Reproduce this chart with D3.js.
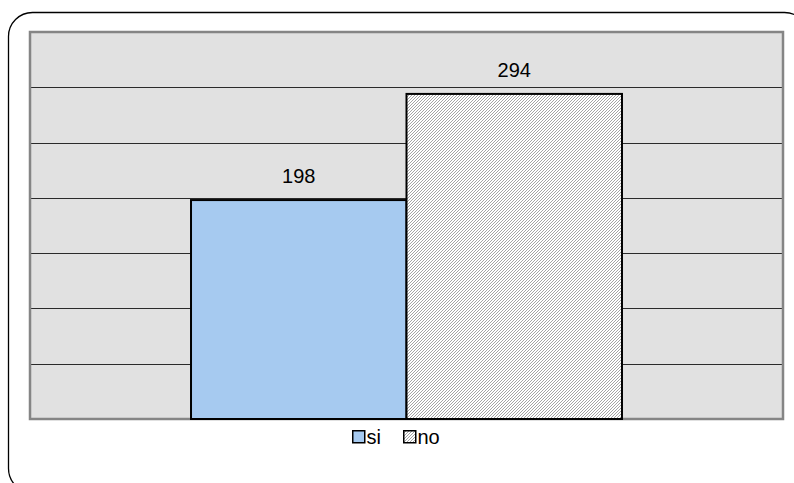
<!DOCTYPE html>
<html>
<head>
<meta charset="utf-8">
<script src="https://cdn.jsdelivr.net/npm/d3@7"></script>
<style>
  html, body { margin: 0; padding: 0; background: #fff; }
  svg { display: block; font-family: Arial, "Liberation Sans", sans-serif; }
</style>
</head>
<body>
<svg id="chart" width="794" height="483"></svg>
<script>
// Responses per answer
const categories = [""];
const seriesNames = ["si", "no"];
const seriesValues = [198, 294];
const yTicks = [0, 50, 100, 150, 200, 250, 300, 350];

const svg = d3.select("#chart");

// Rounded outer frame
svg.append("rect")
  .attr("x", 8.5).attr("y", 12.5)
  .attr("width", 800).attr("height", 480)
  .attr("rx", 24).attr("ry", 24)
  .attr("fill", "#fff")
  .attr("stroke", "#000").attr("stroke-width", 1.3);

// Hatch pattern for the "no" series
const defs = svg.append("defs");
const pat = defs.append("pattern")
  .attr("id", "hatch")
  .attr("patternUnits", "userSpaceOnUse")
  .attr("width", 3).attr("height", 3);
pat.append("rect").attr("width", 3).attr("height", 3).attr("fill", "#fff");
pat.append("path")
  .attr("d", "M-1,1 L1,-1 M0,3 L3,0 M2,4 L4,2")
  .attr("stroke", "#9a9a9a").attr("stroke-width", 0.9);

const plot = { left: 30, right: 783, top: 32, bottom: 419 };

const y = d3.scaleLinear()
  .domain([0, d3.max(yTicks)])
  .range([plot.bottom, plot.top]);

const x0 = d3.scaleBand()
  .domain(categories)
  .range([plot.left, plot.right])
  .paddingOuter(0.3736).paddingInner(0);

const x1 = d3.scaleBand()
  .domain(seriesNames)
  .range([0, x0.bandwidth()]);

// Plot background
svg.append("rect")
  .attr("x", plot.left).attr("y", plot.top)
  .attr("width", plot.right - plot.left).attr("height", plot.bottom - plot.top)
  .attr("fill", "#e1e1e1");

// Horizontal gridlines
svg.append("g")
  .selectAll("line")
  .data(yTicks.filter(t => t > 0 && t < d3.max(yTicks)))
  .join("line")
  .attr("x1", plot.left).attr("x2", plot.right)
  .attr("y1", d => Math.round(y(d)) + 0.5).attr("y2", d => Math.round(y(d)) + 0.5)
  .attr("stroke", "#2a2a2a").attr("stroke-width", 1);

// Plot border
svg.append("rect")
  .attr("x", plot.left).attr("y", plot.top)
  .attr("width", plot.right - plot.left).attr("height", plot.bottom - plot.top)
  .attr("fill", "none")
  .attr("stroke", "#858585").attr("stroke-width", 2.5);

const fills = { si: "#a6caf0", no: "url(#hatch)" };

const data = seriesNames.map((s, i) => ({ series: s, value: seriesValues[i], cat: categories[0] }));

// Bars
svg.append("g")
  .selectAll("rect")
  .data(data)
  .join("rect")
  .attr("x", d => x0(d.cat) + x1(d.series))
  .attr("y", d => y(d.value))
  .attr("width", x1.bandwidth())
  .attr("height", d => y(0) - y(d.value))
  .attr("fill", d => fills[d.series])
  .attr("stroke", "#000").attr("stroke-width", 2);

// Value labels
svg.append("g")
  .selectAll("text")
  .data(data)
  .join("text")
  .attr("x", d => x0(d.cat) + x1(d.series) + x1.bandwidth() / 2)
  .attr("y", d => y(d.value) - 17)
  .attr("text-anchor", "middle")
  .attr("font-size", 20)
  .attr("fill", "#000")
  .text(d => d.value);

// Legend
const legend = svg.append("g").attr("transform", "translate(352,437)");
const legendX = [0, 51];
seriesNames.forEach((s, i) => {
  const g = legend.append("g").attr("transform", `translate(${legendX[i]},0)`);
  g.append("rect")
    .attr("x", 0.75).attr("y", -6.25)
    .attr("width", 12).attr("height", 12)
    .attr("fill", fills[s])
    .attr("stroke", "#000").attr("stroke-width", 1.5);
  g.append("text")
    .attr("x", 14.5).attr("y", 7)
    .attr("font-size", 20)
    .attr("fill", "#000")
    .text(s);
});
</script>
</body>
</html>
